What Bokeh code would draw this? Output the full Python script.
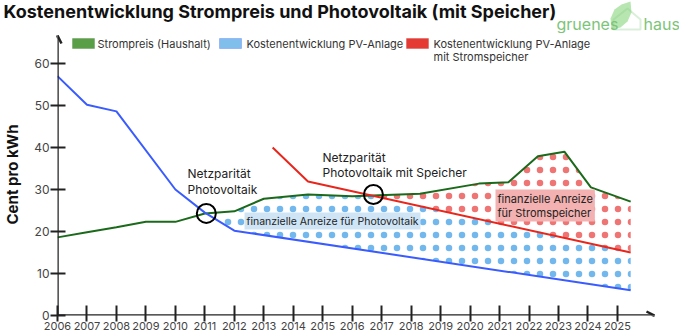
import numpy as np
from bokeh.plotting import figure
from bokeh.layouts import column
from bokeh.models import (Range1d, FixedTicker, Label, Arrow, OpenHead,
                          BoxAnnotation, PolyAnnotation)
from bokeh.embed import file_html
from bokeh.resources import INLINE

# ---------------- data ----------------
title_text = "Kostenentwicklung Strompreis und Photovoltaik (mit Speicher)"
y_label = "Cent pro kWh"
tick_years = list(range(2006, 2026))
y_ticks = [0, 10, 20, 30, 40, 50, 60]

strom_years = [2006, 2007, 2008, 2009, 2010, 2011, 2012, 2013, 2014.5, 2016,
               2018.3, 2020.3, 2021.3, 2022.3, 2023.2, 2024.1, 2025.45]
strom = [18.6, 19.8, 21.0, 22.3, 22.3, 24.3, 24.8, 27.8, 28.8, 28.4,
         29.0, 31.4, 31.7, 37.9, 39.0, 30.5, 27.1]

pv_years = [2006, 2007, 2008, 2010, 2011, 2012, 2025.45]
pv = [57.0, 50.2, 48.6, 30.0, 24.5, 20.2, 6.0]

speicher_years = [2013.3, 2014.5, 2025.45]
speicher = [40.0, 31.9, 15.0]

parity_years = [2011.05, 2016.72]
parity_vals = [24.3, 28.8]

legend_labels = ["Strompreis (Haushalt)", "Kostenentwicklung PV-Anlage",
                 "Kostenentwicklung PV-Anlage\nmit Stromspeicher"]
note_pv = "Netzparität\nPhotovoltaik"
note_sp = "Netzparität\nPhotovoltaik mit Speicher"
incent_pv = "finanzielle Anreize für Photovoltaik"
incent_sp = "finanzielle Anreize\nfür Stromspeicher"
logo_words = ["gruenes", "haus"]

# ---------------- layout ----------------
W = 679
TOP_H = 33              # header strip (title + logo)
FL = 57                 # chart frame left edge
FB = 315                # chart frame bottom (page px)
FW = W - FL
FH = FB - TOP_H
PX_YEAR, PX_UNIT = 29.47, 4.2
X_END = 2006 + FW / PX_YEAR
Y_END = FH / PX_UNIT


def dx(px):
    return 2006 + (px - FL) / PX_YEAR


def dy(py):
    return (FB - py) / PX_UNIT


FONT = "Inter"
DARK = "#222222"

# ---------------- header figure ----------------
top = figure(width=W, height=TOP_H, x_range=Range1d(0, W), y_range=Range1d(TOP_H, 0),
             x_axis_type=None, y_axis_type=None, min_border=0, frame_align=False,
             output_backend="svg", toolbar_location=None)
top.outline_line_color = None
top.grid.visible = False
top.add_layout(Label(x=3, y=11, text=title_text, text_align="left",
                     text_baseline="middle", text_font=FONT, text_font_size="18px",
                     text_font_style="bold", text_color="#111111"))
leaf = [(611, 29), (610, 18), (614, 9), (621, 4), (630, 1), (631, 12), (627, 21), (620, 27)]
top.add_layout(PolyAnnotation(xs=[a for a, b in leaf], ys=[b for a, b in leaf],
                              fill_color="#b8e6b0", fill_alpha=1, line_alpha=0))
house = [(613, 19), (613, 29), (640, 29), (640, 19), (627, 8)]
top.add_layout(PolyAnnotation(xs=[a for a, b in house], ys=[b for a, b in house],
                              fill_alpha=0, line_color="#86c985", line_width=2))
for tx, t in zip([556, 643], logo_words):
    top.add_layout(Label(x=tx, y=23, text=t, text_align="left",
                         text_baseline="middle", text_font=FONT,
                         text_font_size="16px", text_color="#7cc479"))

# ---------------- chart figure ----------------
p = figure(frame_width=FW, frame_height=FH, min_border_left=FL,
           min_border_right=0, min_border_top=0, min_border_bottom=0,
           frame_align=False,
           x_range=Range1d(2006, X_END), y_range=Range1d(0, Y_END),
           output_backend="svg", toolbar_location=None)
p.outline_line_color = None
p.grid.visible = False

p.xaxis.ticker = FixedTicker(ticks=tick_years)
p.xaxis.axis_line_color = None
p.xaxis.major_tick_in = 10
p.xaxis.major_tick_out = 6
p.xaxis.major_tick_line_width = 2
p.xaxis.major_tick_line_color = DARK
p.xaxis.minor_tick_line_color = None
p.xaxis.major_label_standoff = 0
p.xaxis.major_label_text_font_size = "11px"
p.xaxis.major_label_text_color = "#444444"
p.xaxis.major_label_text_font = FONT

p.yaxis.ticker = FixedTicker(ticks=y_ticks)
p.yaxis.axis_line_color = None
p.yaxis.major_tick_in = 8
p.yaxis.major_tick_out = 7
p.yaxis.major_tick_line_width = 2
p.yaxis.major_tick_line_color = DARK
p.yaxis.minor_tick_line_color = None
p.yaxis.major_label_standoff = 1
p.yaxis.major_label_text_font_size = "12px"
p.yaxis.major_label_text_color = "#444444"
p.yaxis.major_label_text_font = FONT
p.yaxis.axis_label = y_label
p.yaxis.axis_label_text_font = FONT
p.yaxis.axis_label_text_font_size = "15px"
p.yaxis.axis_label_text_font_style = "bold"
p.yaxis.axis_label_text_color = "#111111"
p.yaxis.axis_label_standoff = 9

# axis lines with arrow heads
p.add_layout(Arrow(end=OpenHead(size=8, line_width=2.5, line_color=DARK),
                   x_start=2006, y_start=0, x_end=dx(654), y_end=0,
                   line_width=2.5, line_color=DARK))
p.add_layout(Arrow(end=OpenHead(size=8, line_width=2.5, line_color=DARK),
                   x_start=2006, y_start=0, x_end=2006, y_end=dy(35),
                   line_width=2.5, line_color=DARK))

# ---------------- dotted areas ----------------
xs = np.linspace(parity_years[0], pv_years[-1], 500)
low = np.interp(xs, pv_years, pv)
g = np.interp(xs, strom_years, strom)
r = np.where(xs >= speicher_years[0], np.interp(xs, speicher_years, speicher), np.inf)
p.varea(x=xs, y1=low, y2=np.minimum(g, r), fill_alpha=0,
        hatch_pattern="dot", hatch_color="#5aabea", hatch_scale=13,
        hatch_weight=0.3, hatch_alpha=0.85)

xs2 = np.linspace(parity_years[1], speicher_years[-1], 400)
r2 = np.interp(xs2, speicher_years, speicher)
g2 = np.interp(xs2, strom_years, strom)
p.varea(x=xs2, y1=r2, y2=np.maximum(g2, r2), fill_alpha=0,
        hatch_pattern="dot", hatch_color="#ec5c5c", hatch_scale=13,
        hatch_weight=0.3, hatch_alpha=0.85)

# ---------------- lines ----------------
p.line(strom_years, strom, line_color="#1b6a1b", line_width=2)
p.line(pv_years, pv, line_color="#3a5cff", line_width=2)
p.line(speicher_years, speicher, line_color="#e8261c", line_width=2)

p.scatter(parity_years, parity_vals, marker="circle", size=19, fill_alpha=0,
          line_color="black", line_width=2)

# ---------------- notes ----------------
p.add_layout(Label(x=dx(187), y=dy(165), text=note_pv, text_align="left",
                   text_baseline="top", text_font=FONT, text_font_size="12px",
                   text_line_height=1.1, text_color=DARK))
p.add_layout(Label(x=dx(322), y=dy(149), text=note_sp, text_align="left",
                   text_baseline="top", text_font=FONT, text_font_size="12px",
                   text_line_height=1.05, text_color=DARK))
p.add_layout(Label(x=dx(244), y=dy(220.5), text=incent_pv, text_align="left",
                   text_baseline="middle", text_font=FONT, text_font_size="10.5px",
                   text_color=DARK, background_fill_color="#cfe5f6",
                   padding=2))
p.add_layout(Label(x=dx(495), y=dy(189), text=incent_sp, text_align="left",
                   text_baseline="top", text_font=FONT, text_font_size="11px",
                   text_line_height=1.0, text_color=DARK,
                   background_fill_color="#f3b1b1", padding=2))

# ---------------- legend ----------------
swatches = [(72, "#5a9e48", "#3c7a30"), (219, "#80bfec", "#3a5cff"),
            (406, "#e53a33", "#c62828")]
text_x = [97, 246, 433]
for (sx, fc, lc), tx, lab in zip(swatches, text_x, legend_labels):
    p.add_layout(BoxAnnotation(left=dx(sx), right=dx(sx + 22), top=dy(38),
                               bottom=dy(48), fill_color=fc, fill_alpha=1,
                               line_color=lc, line_width=1))
    p.add_layout(Label(x=dx(tx), y=dy(36.5), text=lab, text_align="left",
                       text_baseline="top", text_font=FONT,
                       text_font_size="11px", text_line_height=0.95,
                       text_color="#333333"))

layout = column(top, p, spacing=0)
open("out.html", "w").write(file_html(layout, INLINE))
